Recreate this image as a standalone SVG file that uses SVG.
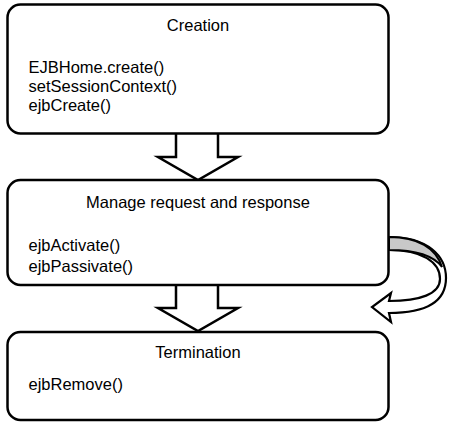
<svg xmlns="http://www.w3.org/2000/svg" width="450" height="426" viewBox="0 0 450 426">
<style>
.box{fill:#fff;stroke:#000;stroke-width:2.5}
.arr{fill:#fff;stroke:#000;stroke-width:2.5;stroke-linejoin:miter}
.band{fill:#fff;stroke:#000;stroke-width:2.2;stroke-linejoin:miter}
.gray{fill:#c8c8c8;stroke:#000;stroke-width:2}
text{font-family:"Liberation Sans",Arial,Helvetica,sans-serif;font-size:16.5px;fill:#000}
.t{text-anchor:middle}
</style>
<rect width="450" height="426" fill="#fff"/>
<g id="connectors">
<path class="arr" d="M176,133 L176,157 L158,157 L198,180 L238,157 L218,157 L218,133"/>
<path class="arr" d="M176,284 L176,308 L158,308 L198,331 L238,308 L218,308 L218,284"/>
<path class="band" d="M389,237 C428,237 446,256 446,278 C446,302 426,313 389,313 L391,322 L372,307 L391,293 L389,301 C420,301 440,294 440,279 C440,262 422,250 389,250 Z"/>
<path class="gray" d="M389,237 C418,237 436,248 442,267 C434,256 416,250 389,250 Z"/>
</g>
<g id="creation">
<rect class="box" x="7.5" y="4.5" width="381" height="129" rx="13"/>
<text class="t" x="198" y="31">Creation</text>
<text x="28.5" y="72.5">EJBHome.create()</text>
<text x="28.5" y="91.5">setSessionContext()</text>
<text x="28.5" y="110.5">ejbCreate()</text>
</g>
<g id="manage">
<rect class="box" x="7.5" y="180" width="381" height="105" rx="13"/>
<text class="t" x="198" y="208">Manage request and response</text>
<text x="28.5" y="251">ejbActivate()</text>
<text x="28.5" y="272">ejbPassivate()</text>
</g>
<g id="termination">
<rect class="box" x="7.5" y="332" width="381" height="88" rx="13"/>
<text class="t" x="198" y="357.5">Termination</text>
<text x="28.5" y="390">ejbRemove()</text>
</g>
</svg>
